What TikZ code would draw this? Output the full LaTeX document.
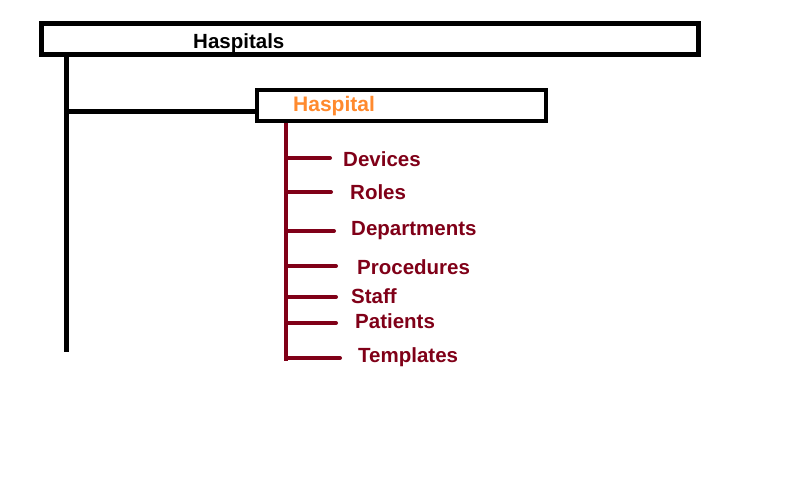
\documentclass[tikz,border=0pt]{standalone}
\usepackage{fontspec}
\setmainfont{Liberation Sans}
\definecolor{maroon}{HTML}{800018}
\definecolor{orng}{HTML}{FF8A2E}
\begin{document}
\begin{tikzpicture}[x=1pt,y=-1pt,
  blk/.style={draw=black,line width=5pt},
  mline/.style={draw=maroon,line width=4pt,line cap=round},
  item/.style={anchor=west,inner sep=0pt,text=maroon,font=\fontsize{20.5}{22}\selectfont\bfseries}]
\useasboundingbox (0,0) rectangle (791,478);
\fill[white] (0,0) rectangle (791,478);
% outer box
\draw[blk] (41,24) rectangle (698,55);
\node[anchor=west,inner sep=0pt,font=\fontsize{20.5}{22}\selectfont\bfseries] (hs) at (193,43) {Haspitals};
\coordinate (vt) at (66,57);
\coordinate (vb) at (66,352);
\coordinate (hj) at (66,112);
\draw[blk] (vt) -- (vb);
% inner box
\draw[blk,line width=4.5pt] (257,90) rectangle (546,121);
\coordinate (hl) at (257,112);
\draw[blk] (hj) -- (hl);
\node[anchor=west,inner sep=0pt,text=orng,font=\fontsize{21}{23}\selectfont\bfseries] (h) at (293,106) {Haspital};
% maroon tree
\coordinate (mt) at (286,123);
\coordinate (mb) at (286,361);
\draw[mline,line cap=butt] (mt) -- (mb);
\foreach \n/\y/\e/\tx/\ty/\t in {d/158/330/343/159/Devices, r/192/331/350/192/Roles, de/231/334/351/231/Departments, p/266/336/357/267/Procedures, s/297/336/351/296/Staff, pa/323/336/355/321/Patients, t/358/340/358/357/Templates}{
  \coordinate (\n a) at (286,\y);
  \coordinate (\n b) at (\e,\y);
  \draw[mline] (\n a) -- (\n b);
  \node[item] (\n) at (\tx,\ty) {\t};
}
\end{tikzpicture}
\end{document}
